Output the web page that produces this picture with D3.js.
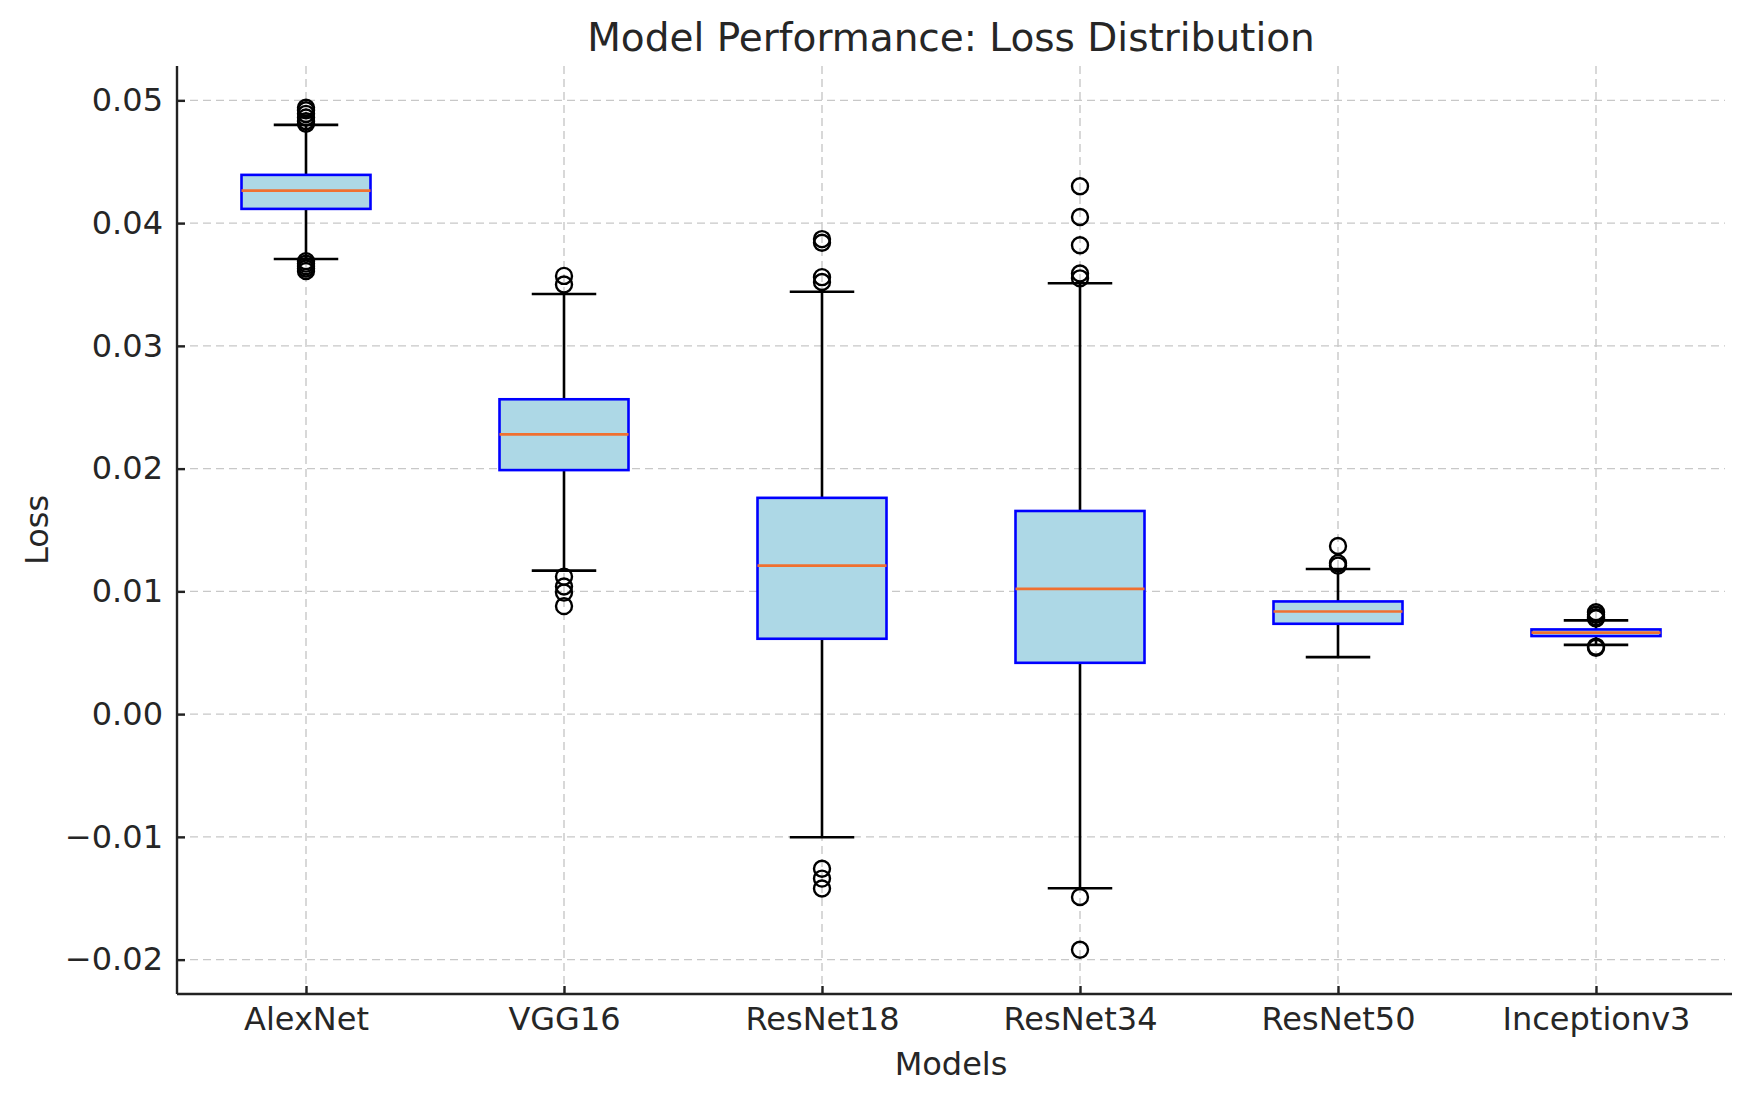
<!DOCTYPE html>
<html>
<head>
<meta charset="utf-8">
<script src="https://cdn.jsdelivr.net/npm/d3@7"></script>
<style>
  body { margin: 0; background: #fff; }
  text { font-family: "DejaVu Sans", sans-serif; fill: #262626; }
</style>
</head>
<body>
<script>
// data
var models = ["AlexNet", "VGG16", "ResNet18", "ResNet34", "ResNet50", "Inceptionv3"];
var whiskerLow  = [0.03708, 0.01169, -0.01003, -0.01418, 0.00464, 0.00564];
var q1          = [0.04116, 0.01988, 0.00614, 0.00418, 0.00736, 0.00636];
var medians     = [0.04265, 0.02279, 0.01210, 0.01020, 0.00836, 0.00664];
var q3          = [0.04393, 0.02565, 0.01762, 0.01655, 0.00918, 0.00690];
var whiskerHigh = [0.04800, 0.03422, 0.03441, 0.03510, 0.01182, 0.00764];
var outliers = [
  [0.0494, 0.0492, 0.0489, 0.0486, 0.0483, 0.0481, 0.0369, 0.0367, 0.0365, 0.0363, 0.0361],
  [0.0357, 0.0350, 0.0112, 0.0104, 0.0099, 0.0088],
  [0.0387, 0.0384, 0.0356, 0.0352, -0.0126, -0.0134, -0.0142],
  [0.0430, 0.0405, 0.0382, 0.0359, 0.0355, -0.0149, -0.0192],
  [0.0137, 0.0123, 0.0121],
  [0.0083, 0.0081, 0.0079, 0.0078, 0.0055, 0.0054]
];
var yTicks = [-0.02, -0.01, 0, 0.01, 0.02, 0.03, 0.04, 0.05];

function draw(){
  var w = 1746, h = 1097;
  var pLeft = 177, pRight = 1725, pTop = 66, pBottom = 994;

  var svg = d3.select("body").append("svg")
    .attr("width", w)
    .attr("height", h);

  var xScale = d3.scalePoint()
    .domain(models)
    .range([pLeft, pRight])
    .padding(0.5);

  var yScale = d3.scaleLinear()
    .domain([-0.0228, 0.0528])
    .range([pBottom, pTop]);

  var boxW = xScale.step() * 0.5;

  // grid
  var grid = svg.append("g");
  grid.selectAll(".gy").data(yTicks).enter().append("line")
    .attr("x1", pLeft).attr("x2", pRight)
    .attr("y1", function(d){ return yScale(d); })
    .attr("y2", function(d){ return yScale(d); })
    .attr("stroke", "#c8c8c8").attr("stroke-width", 1.4)
    .attr("stroke-dasharray", "8,5");
  grid.selectAll(".gx").data(models).enter().append("line")
    .attr("x1", function(d){ return xScale(d); })
    .attr("x2", function(d){ return xScale(d); })
    .attr("y1", pTop).attr("y2", pBottom)
    .attr("stroke", "#c8c8c8").attr("stroke-width", 1.4)
    .attr("stroke-dasharray", "8,5");

  // boxes
  var boxes = svg.selectAll(".box").data(models).enter().append("g");

  boxes.append("line")
    .attr("x1", function(d){ return xScale(d); })
    .attr("x2", function(d){ return xScale(d); })
    .attr("y1", function(d,i){ return yScale(whiskerHigh[i]); })
    .attr("y2", function(d,i){ return yScale(q3[i]); })
    .attr("stroke", "#000").attr("stroke-width", 2.6);
  boxes.append("line")
    .attr("x1", function(d){ return xScale(d); })
    .attr("x2", function(d){ return xScale(d); })
    .attr("y1", function(d,i){ return yScale(q1[i]); })
    .attr("y2", function(d,i){ return yScale(whiskerLow[i]); })
    .attr("stroke", "#000").attr("stroke-width", 2.6);
  // caps
  [whiskerHigh, whiskerLow].forEach(function(arr){
    boxes.append("line")
      .attr("x1", function(d){ return xScale(d) - boxW / 4; })
      .attr("x2", function(d){ return xScale(d) + boxW / 4; })
      .attr("y1", function(d,i){ return yScale(arr[i]); })
      .attr("y2", function(d,i){ return yScale(arr[i]); })
      .attr("stroke", "#000").attr("stroke-width", 2.6);
  });

  boxes.append("rect")
    .attr("x", function(d){ return xScale(d) - boxW / 2; })
    .attr("y", function(d,i){ return yScale(q3[i]); })
    .attr("width", boxW)
    .attr("height", function(d,i){ return yScale(q1[i]) - yScale(q3[i]); })
    .attr("fill", "lightblue")
    .attr("stroke", "blue").attr("stroke-width", 2.6);

  boxes.append("line")
    .attr("x1", function(d){ return xScale(d) - boxW / 2; })
    .attr("x2", function(d){ return xScale(d) + boxW / 2; })
    .attr("y1", function(d,i){ return yScale(medians[i]); })
    .attr("y2", function(d,i){ return yScale(medians[i]); })
    .attr("stroke", "#f07030").attr("stroke-width", 2.6);

  // fliers
  boxes.each(function(d, i){
    d3.select(this).selectAll("circle")
      .data(outliers[i]).enter().append("circle")
      .attr("cx", xScale(d))
      .attr("cy", function(v){ return yScale(v); })
      .attr("r", 8)
      .attr("fill", "none")
      .attr("stroke", "#000").attr("stroke-width", 2.4);
  });

  // axes
  var yAxis = d3.axisLeft(yScale)
    .tickValues(yTicks)
    .tickSize(-8)
    .tickPadding(14)
    .tickFormat(d3.format(".2f"));
  var yg = svg.append("g")
    .attr("transform", "translate(" + pLeft + ",0)")
    .call(yAxis);
  yg.select(".domain").attr("d", "M0," + pTop + "V" + pBottom)
    .attr("stroke", "#222").attr("stroke-width", 2.4);
  yg.selectAll(".tick line").attr("stroke", "#222").attr("stroke-width", 2.4);
  yg.selectAll("text").style("font-size", "32px").attr("fill", "#262626");

  var xAxis = d3.axisBottom(xScale)
    .tickSize(-8)
    .tickPadding(13);
  var xg = svg.append("g")
    .attr("transform", "translate(0," + pBottom + ")")
    .call(xAxis);
  xg.select(".domain").attr("d", "M" + pLeft + ",0H" + (pRight + 7))
    .attr("stroke", "#222").attr("stroke-width", 2.4);
  xg.selectAll(".tick line").attr("stroke", "#222").attr("stroke-width", 2.4);
  xg.selectAll("text").style("font-size", "32px").attr("fill", "#262626");

  // labels
  svg.append("text")
    .attr("x", (pLeft + pRight) / 2)
    .attr("y", 51)
    .attr("text-anchor", "middle")
    .style("font-size", "39px")
    .text("Model Performance: Loss Distribution");

  svg.append("text")
    .attr("x", (pLeft + pRight) / 2)
    .attr("y", 1075)
    .attr("text-anchor", "middle")
    .style("font-size", "32px")
    .text("Models");

  svg.append("text")
    .attr("transform", "translate(48," + ((pTop + pBottom) / 2) + ") rotate(-90)")
    .attr("text-anchor", "middle")
    .style("font-size", "32px")
    .text("Loss");
}

draw();
</script>
</body>
</html>
